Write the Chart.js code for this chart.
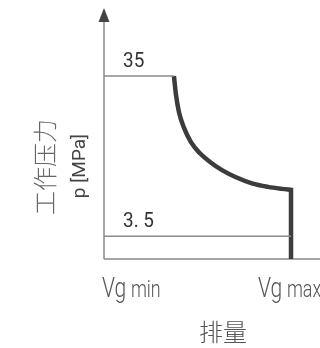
<!DOCTYPE html>
<html>
<head>
<meta charset="utf-8">
<script src="https://cdn.jsdelivr.net/npm/chart.js@4"></script>
<style>
  html,body{margin:0;padding:0;background:#fff;}
  #wrap{width:320px;height:348px;}
</style>
</head>
<body>
<div id="wrap"><canvas id="c" width="320" height="348"></canvas></div>
<script>
// values (x: displacement %, Vg min = 0, Vg max = 100; y: MPa)
const curveV = [37.4, 38.5, 40.1, 42.8, 46.5, 51.3, 56.7, 63.1, 70.6, 79.1, 87.7, 95.2, 100];
const curveP = [35, 31.3, 27.9, 24.8, 22.0, 19.8, 18.1, 16.5, 15.1, 13.9, 13.2, 12.8, 12.6];
const dropV = [100, 100];
const dropP = [12.6, -1];
const highV = [0, 37.4];
const highP = [35, 35];
const lowV = [0, 100];
const lowP = [3.5, 3.5];
const xTickVals = [0, 100];
const xTickLabels = ['Vg min', 'Vg max'];
const yTickVals = [35, 3.5];
const yTickLabels = ['35', '3. 5'];
const xTitle = '排量';
const yTitle = ['工作压力', 'p [MPa]'];

const pts = (xs, ys) => xs.map((x, i) => ({x, y: ys[i]}));
const thin = '#8a8a8a', thick = '#3c3c3c';

const decor = {
  id: 'decor',
  beforeDatasetsDraw(chart){
    const {ctx, chartArea:a, scales:{x, y}} = chart;
    const x0 = x.getPixelForValue(0), yb = y.getPixelForValue(-1);
    ctx.save();
    ctx.strokeStyle = thin; ctx.lineWidth = 1.5;
    ctx.beginPath();
    ctx.moveTo(x0, yb); ctx.lineTo(a.right, yb);
    ctx.moveTo(x0, yb); ctx.lineTo(x0, a.top + 12);
    ctx.stroke();
    ctx.fillStyle = '#444';
    ctx.beginPath();
    ctx.moveTo(x0, a.top); ctx.lineTo(x0 - 5.5, a.top + 14); ctx.lineTo(x0 + 5.5, a.top + 14);
    ctx.closePath(); ctx.fill();
    ctx.restore();
  },
  afterDatasetsDraw(chart){
    const {ctx, scales:{x, y}} = chart;
    ctx.save();
    // level labels above the thin lines
    ctx.fillStyle = '#333';
    ctx.font = '21px Roboto';
    ctx.textBaseline = 'alphabetic';
    yTickVals.forEach((v, i) => {
      const py = y.getPixelForValue(v);
      ctx.save();
      ctx.translate(x.getPixelForValue(10.2), py - 9);
      ctx.scale(0.9, 1);
      ctx.fillText(yTickLabels[i], 0, 0);
      ctx.restore();
    });
    // Vg min / Vg max
    ctx.fillStyle = '#555';
    xTickVals.forEach((v, i) => {
      const [sub, rest] = xTickLabels[i].split(' ');
      ctx.save();
      ctx.translate(x.getPixelForValue(v) - (i ? 33 : 2), 297);
      ctx.scale(0.78, 1);
      ctx.font = '300 27px Roboto';
      ctx.fillText(sub, 0, 0);
      const w = ctx.measureText(sub).width;
      ctx.font = '300 23px Roboto';
      ctx.fillText(rest, w + 6, 0);
      ctx.restore();
    });
    // axis titles
    ctx.fillStyle = '#555';
    ctx.textAlign = 'center';
    ctx.textBaseline = 'middle';
    ctx.font = '300 24px "Noto Sans CJK SC"';
    ctx.fillText(xTitle, 223, 332);
    ctx.save();
    ctx.translate(45, 167);
    ctx.rotate(-Math.PI / 2);
    ctx.fillStyle = '#666';
    ctx.font = '300 24px "Noto Sans CJK SC"';
    ctx.fillText(yTitle[0], 0, 0);
    ctx.restore();
    ctx.save();
    ctx.translate(80, 166);
    ctx.rotate(-Math.PI / 2);
    ctx.fillStyle = '#444';
    ctx.font = '19px Roboto';
    ctx.fillText(yTitle[1], 0, 0);
    ctx.restore();
    ctx.restore();
  }
};

new Chart(document.getElementById('c'), {
  type: 'line',
  data: {
    datasets: [
      {data: pts(highV, highP), borderColor: thin, borderWidth: 1.5, tension: 0},
      {data: pts(lowV, lowP), borderColor: thin, borderWidth: 1.5, tension: 0},
      {data: pts(curveV, curveP), borderColor: thick, borderWidth: 4.5, cubicInterpolationMode: 'monotone', borderCapStyle: 'butt'},
      {data: pts(dropV, dropP), borderColor: thick, borderWidth: 4.5, tension: 0, borderCapStyle: 'square'}
    ]
  },
  options: {
    responsive: false,
    animation: false,
    layout: {padding: {left: 104, right: 0, top: 8, bottom: 89}},
    elements: {point: {radius: 0}},
    plugins: {legend: {display: false}, tooltip: {enabled: false}},
    scales: {
      x: {type: 'linear', display: false, min: 0, max: 115.5},
      y: {type: 'linear', display: false, min: -1, max: 48.4}
    }
  },
  plugins: [decor]
});
</script>
</body>
</html>
